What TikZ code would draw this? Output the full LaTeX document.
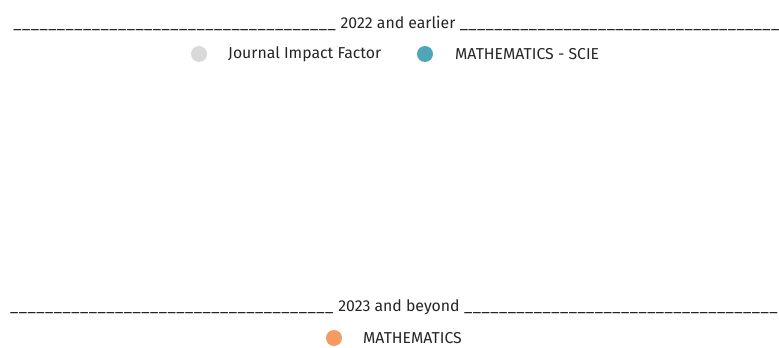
\documentclass[tikz,border=0pt]{standalone}
\usepackage{fontspec}
\setmainfont{Fira Sans}
\usepackage{xcolor}
\definecolor{jifgray}{HTML}{D9D9D9}
\definecolor{sciteal}{HTML}{4FA6B9}
\definecolor{mathorange}{HTML}{F69A64}
\newcommand\bars[1]{\hbox to #1{\xleaders\hbox{\_\kern0.4pt}\hfill}}

\begin{document}
\begin{tikzpicture}[x=1pt,y=-1pt,
    lbl/.style={inner sep=0pt,font=\fontsize{15.8}{18}\selectfont,text=black!85},
    dot/.style={circle,inner sep=0pt,minimum size=16pt}]
  \useasboundingbox[fill=white] (0,0) rectangle (779,348);
  % period headings
  \node[lbl] (head1) at (398,22) {2022 and earlier};
  \node[lbl,anchor=base east] (bar1l) at ([xshift=-4pt]head1.base west) {\bars{323pt}};
  \node[lbl,anchor=base west] (bar1r) at ([xshift=4pt]head1.base east) {\bars{320pt}};
  \node[lbl] (head2) at (399,307) {2023 and beyond};
  \node[lbl,anchor=base east] (bar2l) at ([xshift=-4pt]head2.base west) {\bars{324pt}};
  \node[lbl,anchor=base west] (bar2r) at ([xshift=4pt]head2.base east) {\bars{314pt}};
  % legends
  \node[dot,fill=jifgray] (jifdot) at (199,54) {};
  \node[lbl,anchor=west] (jif) at (228,54) {Journal Impact Factor};
  \node[dot,fill=sciteal] (scidot) at (425,54) {};
  \node[lbl,anchor=west] (sci) at (455,54) {MATHEMATICS - SCIE};
  \node[dot,fill=mathorange] (mathdot) at (334,338) {};
  \node[lbl,anchor=west] (math) at (363,338) {MATHEMATICS};
\end{tikzpicture}
\end{document}
